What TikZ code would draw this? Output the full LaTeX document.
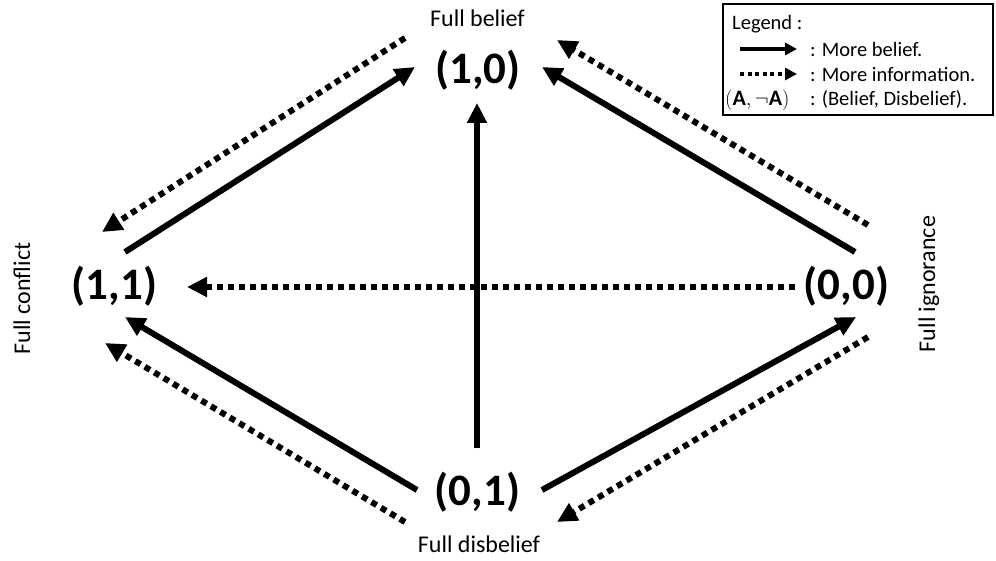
\documentclass[tikz,border=0pt]{standalone}
\usepackage{fontspec}
\setmainfont{Carlito}
\usetikzlibrary{arrows.meta}
\tikzset{
 big/.style={font=\fontsize{45}{54}\selectfont\bfseries, inner sep=0pt},
 lab/.style={font=\fontsize{24}{29}\selectfont, inner sep=0pt, anchor=base},
 leg/.style={font=\fontsize{20.5}{25}\selectfont, inner sep=0pt, anchor=base west},
 legmath/.style={font=\fontsize{22}{26}\selectfont, inner sep=0pt, anchor=base west},
 solidarrow/.style={line width=6pt, -{Triangle[length=20pt,width=19pt]}},
 dotarrow/.style={line width=6pt, dash pattern=on 6pt off 5pt, -{Triangle[length=20pt,width=19pt]}},
 legsolid/.style={line width=4pt, -{Triangle[length=12pt,width=12pt]}},
 legdot/.style={line width=4pt, dash pattern=on 4pt off 3.5pt, -{Triangle[length=12pt,width=12pt]}},
}
\begin{document}
\begin{tikzpicture}[x=1pt,y=-1pt]
\useasboundingbox (0,0) rectangle (996,561);
% main nodes
\node[big] (n10) at (478,70) {(1,0)};
\node[big] (n11) at (114.5,286.5) {(1,1)};
\node[big] (n00) at (846.5,286.5) {(0,0)};
\node[big] (n01) at (477.5,492.5) {(0,1)};
% labels
\node[lab] (lb) at (477.5,27) {Full belief};
\node[lab] (ld) at (479,552) {Full disbelief};
\node[lab, rotate=90] (lc) at (30,298.5) {Full conflict};
\node[lab, rotate=90] (li) at (935,284) {Full ignorance};
% arrow end coordinates
\coordinate (s1a) at (125,252); \coordinate (s1b) at (415,67);
\coordinate (s2a) at (855,252); \coordinate (s2b) at (542,67);
\coordinate (s3a) at (477,448); \coordinate (s3b) at (477,103);
\coordinate (s4a) at (417,490); \coordinate (s4b) at (125,317);
\coordinate (s5a) at (542,490); \coordinate (s5b) at (856,317);
\coordinate (d1a) at (405,38); \coordinate (d1b) at (102,232);
\coordinate (d2a) at (868,225); \coordinate (d2b) at (557,40);
\coordinate (d3a) at (795,287); \coordinate (d3b) at (187,287);
\coordinate (d4a) at (405,522); \coordinate (d4b) at (105,343);
\coordinate (d5a) at (868,337); \coordinate (d5b) at (557,522);
% solid arrows
\draw[solidarrow] (s1a) -- (s1b);
\draw[solidarrow] (s2a) -- (s2b);
\draw[solidarrow] (s3a) -- (s3b);
\draw[solidarrow] (s4a) -- (s4b);
\draw[solidarrow] (s5a) -- (s5b);
% dotted arrows
\draw[dotarrow] (d1a) -- (d1b);
\draw[dotarrow] (d2a) -- (d2b);
\draw[dotarrow] (d3a) -- (d3b);
\draw[dotarrow] (d4a) -- (d4b);
\draw[dotarrow] (d5a) -- (d5b);
% legend
\draw[line width=1.5pt] (723,4) rectangle (993,115);
\node[leg] (lg0) at (732,30) {Legend :};
\coordinate (la1) at (740,49); \coordinate (lb1) at (797,49);
\draw[legsolid] (la1) -- (lb1);
\node[leg] (lg1) at (810,57) {: More belief.};
\coordinate (la2) at (740,74); \coordinate (lb2) at (797,74);
\draw[legdot] (la2) -- (lb2);
\node[leg] (lg2) at (810,82) {: More information.};
\node[legmath] (lg3m) at (725,106) {$(\mathbf{A},\neg\mathbf{A})$};
\node[leg] (lg3) at (810,106) {: (Belief, Disbelief).};
\end{tikzpicture}
\end{document}
